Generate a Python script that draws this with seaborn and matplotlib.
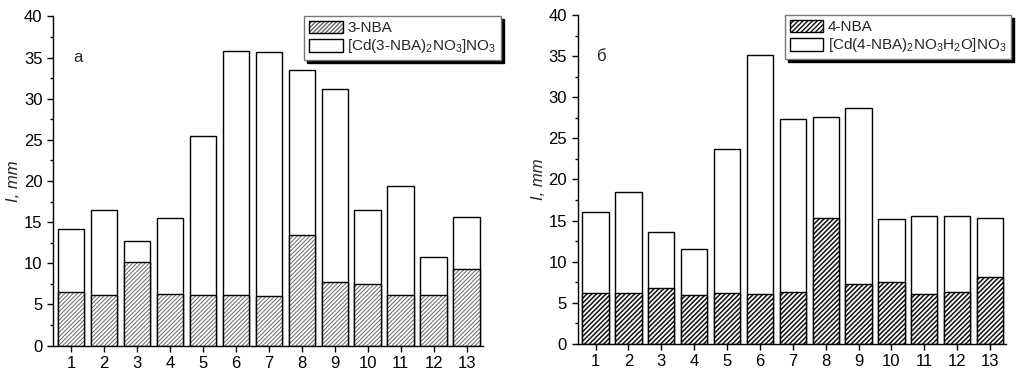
import matplotlib
matplotlib.use('Agg')
import matplotlib.pyplot as plt
import seaborn as sns
from matplotlib.ticker import MultipleLocator

sns.set_style('ticks')
plt.rcParams['font.family'] = ['Liberation Sans', 'DejaVu Sans']
plt.rcParams['mathtext.default'] = 'regular'

# solvent numbers
samples = [str(i) for i in range(1, 14)]

# panel a
ligand_a = [6.5, 6.1, 10.2, 6.3, 6.1, 6.2, 6.0, 13.4, 7.7, 7.5, 6.1, 6.1, 9.3]
complex_a = [14.2, 16.5, 12.7, 15.5, 25.5, 35.8, 35.7, 33.5, 31.2, 16.5, 19.4, 10.8, 15.6]

# panel b
ligand_b = [6.2, 6.2, 6.8, 6.0, 6.2, 6.1, 6.3, 15.3, 7.3, 7.5, 6.1, 6.3, 8.1]
complex_b = [16.1, 18.5, 13.6, 11.6, 23.7, 35.1, 27.3, 27.6, 28.7, 15.2, 15.6, 15.6, 15.3]

fig = plt.figure(figsize=(10.16, 3.73), dpi=100)
ax1 = fig.add_axes([53/1016, 1-345.5/373, 430/1016, 329/373])
ax2 = fig.add_axes([577.5/1016, 1-344/373, 429/1016, 329/373])

panels = [
    (ax1, ligand_a, complex_a, '3-NBA', r'[Cd(3-NBA)$_2$NO$_3$]NO$_3$', 'а',
     0.7, '#666666', '////////', (501/1016, 1-16/373)),
    (ax2, ligand_b, complex_b, '4-NBA', r'[Cd(4-NBA)$_2$NO$_3$H$_2$O]NO$_3$', 'б',
     1.1, '#111111', '///////', (1011/1016, 1-15/373)),
]

for ax, lig, cpx, lig_name, cpx_name, letter, hlw, hcol, hatch, anchor in panels:
    sns.barplot(x=samples, y=cpx, color='white', saturation=1, edgecolor='black',
                linewidth=1, width=0.8, label=cpx_name, ax=ax)
    with plt.rc_context({'hatch.linewidth': hlw}):
        sns.barplot(x=samples, y=lig, color='white', saturation=1, edgecolor=hcol,
                    linewidth=0, width=0.8, hatch=hatch, ax=ax)
    # black outline over the hatched part
    sns.barplot(x=samples, y=lig, fill=False, edgecolor='black', linewidth=1,
                width=0.8, ax=ax)
    ax.set_ylim(0, 40)
    ax.set_xlim(-0.55, 12.5)
    ax.yaxis.set_major_locator(MultipleLocator(5))
    ax.yaxis.set_minor_locator(MultipleLocator(2.5))
    ax.tick_params(axis='both', which='major', direction='out', length=4, width=1,
                   labelsize=12, color='black', labelcolor='black')
    ax.tick_params(axis='y', which='minor', direction='out', length=2.5, width=1, color='black')
    sns.despine(ax=ax)
    for s in ['left', 'bottom']:
        ax.spines[s].set_linewidth(1)
        ax.spines[s].set_color('black')
    ax.set_ylabel('I, mm', fontstyle='italic', fontsize=12, labelpad=2)
    ax.text(0.2, 35, letter, fontsize=12, ha='center', va='center')

    # legend handles
    h1 = matplotlib.patches.Patch(facecolor='white', edgecolor='black', linewidth=1,
                                  label=lig_name)
    h1.set_hatch(hatch)
    h1._hatch_color = matplotlib.colors.to_rgba(hcol)
    h1._hatch_linewidth = hlw
    h2 = matplotlib.patches.Patch(facecolor='white', edgecolor='black',
                                  linewidth=1, label=cpx_name)
    leg = ax.legend(handles=[h1, h2], loc='upper right', bbox_to_anchor=anchor,
                    bbox_transform=fig.transFigure, fancybox=False, fontsize=11,
                    shadow={'color': 'black', 'alpha': 1}, edgecolor='#777777',
                    framealpha=1, borderpad=0.3, labelspacing=0.15, handlelength=2.2,
                    handleheight=0.9, handletextpad=0.3, borderaxespad=0)
    leg.get_frame().set_linewidth(1)

fig.savefig('out.png', dpi=100)
